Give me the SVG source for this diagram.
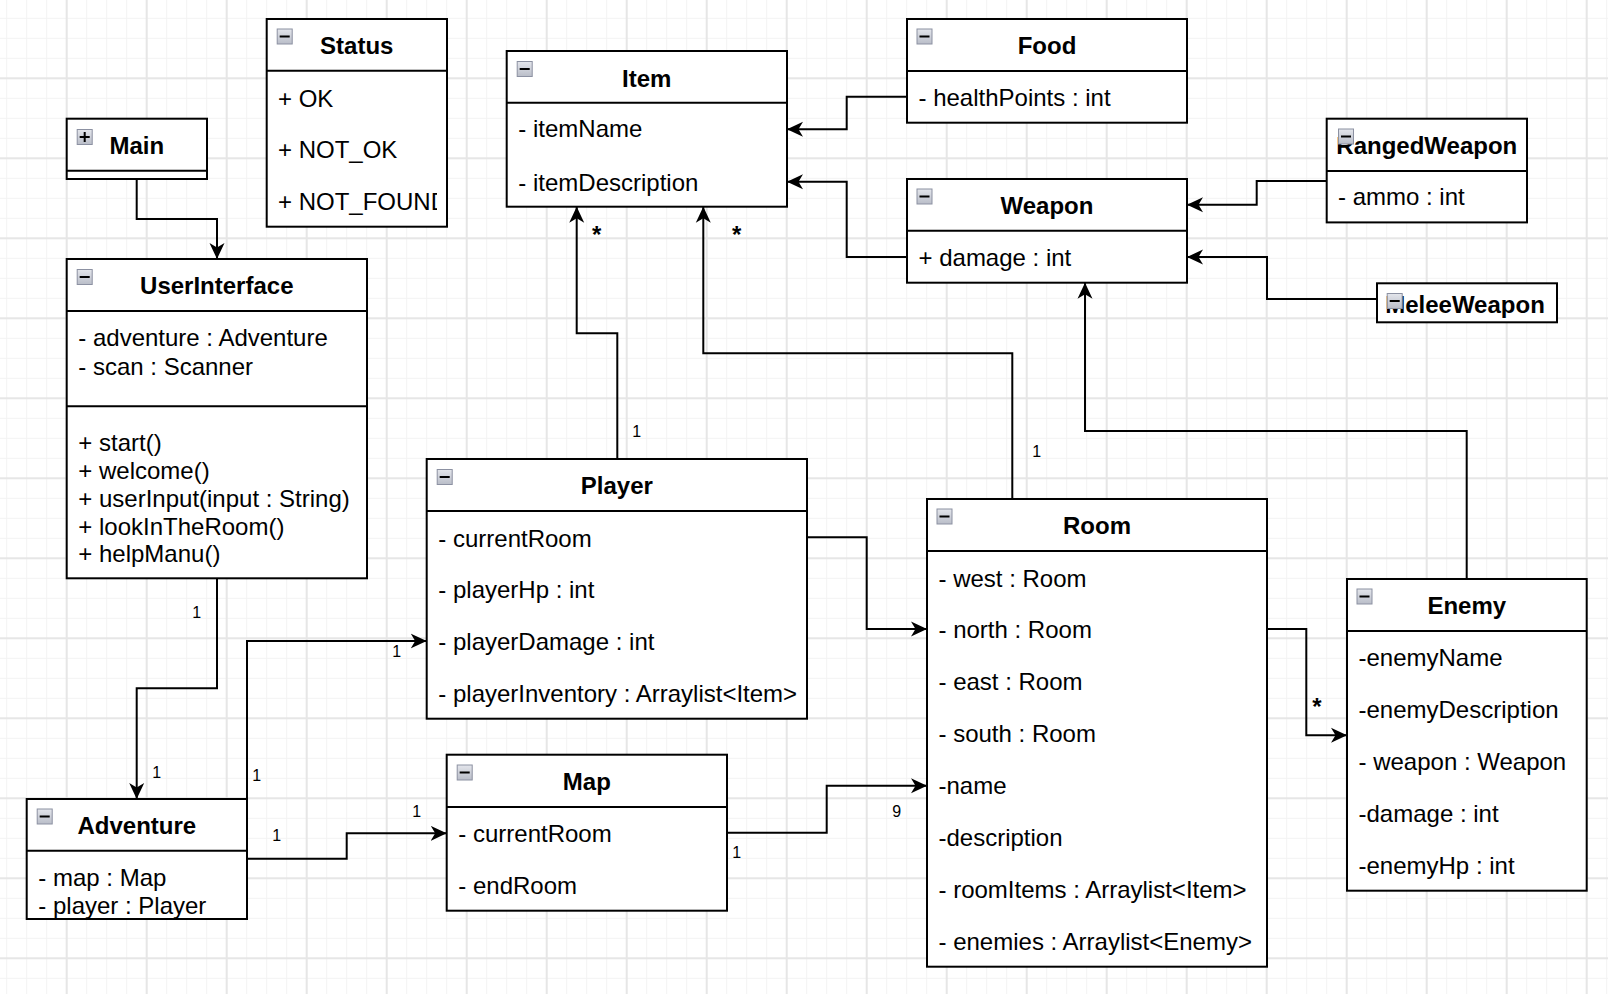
<svg xmlns="http://www.w3.org/2000/svg" width="1608" height="994" viewBox="0 0 1608 994">
  <style>
    text { font-family: "Liberation Sans", Arial, Helvetica, sans-serif; fill: #000; }
    .title { font-size: 24px; font-weight: bold; text-anchor: middle; }
    .attr { font-size: 24px; }
    .mult { font-size: 16px; text-anchor: middle; }
    .star { font-size: 24px; font-weight: bold; text-anchor: middle; }
    .box { fill: #fff; stroke: #000; stroke-width: 2; }
    .sep { stroke: #000; stroke-width: 2; }
    .edge { fill: none; stroke: #000; stroke-width: 2; marker-end: url(#arrow); }
  </style>
  <defs>
    <pattern id="gridMinor" x="6.2" y="17.8" width="20" height="20" patternUnits="userSpaceOnUse">
      <rect x="0" y="0" width="20" height="1" fill="#f3f3f3"/>
      <rect x="0" y="0" width="1" height="20" fill="#f3f3f3"/>
    </pattern>
    <pattern id="gridMajor" x="65.7" y="77.3" width="80" height="80" patternUnits="userSpaceOnUse">
      <rect x="0" y="0" width="80" height="2" fill="#e6e6e6"/>
      <rect x="0" y="0" width="2" height="80" fill="#e6e6e6"/>
    </pattern>
    <linearGradient id="iconFill" x1="0" y1="0" x2="0" y2="1">
      <stop offset="0" stop-color="#e4e6ec"/>
      <stop offset="1" stop-color="#b9bdc8"/>
    </linearGradient>
    <g id="iconMinus">
      <rect x="0.5" y="0.5" width="15" height="15" fill="url(#iconFill)" stroke="#8c91a2" stroke-width="1"/>
      <rect x="3" y="7" width="10" height="2" fill="#000"/>
    </g>
    <g id="iconPlus">
      <rect x="0.5" y="0.5" width="15" height="15" fill="url(#iconFill)" stroke="#8c91a2" stroke-width="1"/>
      <rect x="3" y="7" width="10" height="2" fill="#000"/>
      <rect x="7" y="3" width="2" height="10" fill="#000"/>
    </g>
    <marker id="arrow" viewBox="0 0 16 16" markerWidth="16" markerHeight="16" refX="16" refY="8" orient="auto" markerUnits="userSpaceOnUse">
      <path d="M0,0.5 L16,8 L0,15.5 L4.5,8 Z" fill="#000"/>
    </marker>
    <clipPath id="statusClip">
      <rect x="267" y="71" width="170" height="155"/>
    </clipPath>
  </defs>

  <!-- canvas -->
  <rect width="1608" height="994" fill="#fff"/>
  <rect width="1608" height="994" fill="url(#gridMinor)"/>
  <rect width="1608" height="994" fill="url(#gridMajor)"/>

  <!-- classes -->
  <g id="main">
    <rect class="box" x="66.7" y="118.7" width="140.3" height="60.3"/>
    <line class="sep" x1="66.7" y1="170.7" x2="207" y2="170.7"/>
    <text class="title" x="136.8" y="154.3">Main</text>
    <use href="#iconPlus" x="76.7" y="129"/>
  </g>

  <g id="status">
    <rect class="box" x="266.7" y="19" width="180.3" height="207.7"/>
    <line class="sep" x1="266.7" y1="70.7" x2="447" y2="70.7"/>
    <text class="title" x="356.8" y="54.3">Status</text>
    <g clip-path="url(#statusClip)">
      <text class="attr" x="278" y="106.5">+ OK</text>
      <text class="attr" x="278" y="157.8">+ NOT_OK</text>
      <text class="attr" x="278" y="209.8">+ NOT_FOUND</text>
    </g>
    <use href="#iconMinus" x="276.7" y="28.5"/>
  </g>

  <g id="item">
    <rect class="box" x="506.7" y="51" width="280.3" height="155.7"/>
    <line class="sep" x1="506.7" y1="102.7" x2="787" y2="102.7"/>
    <text class="title" x="646.8" y="87">Item</text>
    <text class="attr" x="518.3" y="137.2">- itemName</text>
    <text class="attr" x="518.3" y="190.5">- itemDescription</text>
    <use href="#iconMinus" x="516.7" y="61"/>
  </g>

  <g id="food">
    <rect class="box" x="907" y="19" width="280" height="103.7"/>
    <line class="sep" x1="907" y1="71" x2="1187" y2="71"/>
    <text class="title" x="1047" y="54.3">Food</text>
    <text class="attr" x="918.5" y="105.5">- healthPoints : int</text>
    <use href="#iconMinus" x="916.5" y="28.5"/>
  </g>

  <g id="weapon">
    <rect class="box" x="907" y="179" width="280" height="103.7"/>
    <line class="sep" x1="907" y1="230.7" x2="1187" y2="230.7"/>
    <text class="title" x="1047" y="214.3">Weapon</text>
    <text class="attr" x="918.5" y="265.5">+ damage : int</text>
    <use href="#iconMinus" x="916.5" y="188.5"/>
  </g>

  <g id="rangedWeapon">
    <rect class="box" x="1326.7" y="118.7" width="200.3" height="103.7"/>
    <line class="sep" x1="1326.7" y1="171" x2="1527" y2="171"/>
    <text class="title" x="1426.8" y="154.3">RangedWeapon</text>
    <text class="attr" x="1338" y="204.5">- ammo : int</text>
    <use href="#iconMinus" x="1338" y="128.5"/>
  </g>

  <g id="meleeWeapon">
    <rect class="box" x="1377" y="283.3" width="180" height="39"/>
    <text class="title" x="1465" y="312.5">MeleeWeapon</text>
    <use href="#iconMinus" x="1386.7" y="293"/>
  </g>

  <g id="userInterface">
    <rect class="box" x="66.7" y="259" width="300.3" height="319.3"/>
    <line class="sep" x1="66.7" y1="311" x2="367" y2="311"/>
    <line class="sep" x1="66.7" y1="406.3" x2="367" y2="406.3"/>
    <text class="title" x="216.8" y="294.3">UserInterface</text>
    <text class="attr" x="78.3" y="346.2">- adventure : Adventure</text>
    <text class="attr" x="78.3" y="374.5">- scan : Scanner</text>
    <text class="attr" x="78.3" y="450.5">+ start()</text>
    <text class="attr" x="78.3" y="478.5">+ welcome()</text>
    <text class="attr" x="78.3" y="506.5">+ userInput(input : String)</text>
    <text class="attr" x="78.3" y="534.5">+ lookInTheRoom()</text>
    <text class="attr" x="78.3" y="562.2">+ helpManu()</text>
    <use href="#iconMinus" x="76.7" y="269"/>
  </g>

  <g id="player">
    <rect class="box" x="426.7" y="459" width="380.3" height="259.7"/>
    <line class="sep" x1="426.7" y1="511" x2="807" y2="511"/>
    <text class="title" x="616.8" y="494.3">Player</text>
    <text class="attr" x="438.3" y="546.5">- currentRoom</text>
    <text class="attr" x="438.3" y="597.8">- playerHp : int</text>
    <text class="attr" x="438.3" y="649.8">- playerDamage : int</text>
    <text class="attr" x="438.3" y="702.2">- playerInventory : Arraylist&lt;Item&gt;</text>
    <use href="#iconMinus" x="436.7" y="469"/>
  </g>

  <g id="room">
    <rect class="box" x="927" y="499" width="340" height="467.7"/>
    <line class="sep" x1="927" y1="551" x2="1267" y2="551"/>
    <text class="title" x="1097" y="534.3">Room</text>
    <text class="attr" x="938.5" y="586.5">- west : Room</text>
    <text class="attr" x="938.5" y="638.2">- north : Room</text>
    <text class="attr" x="938.5" y="689.8">- east : Room</text>
    <text class="attr" x="938.5" y="742.2">- south : Room</text>
    <text class="attr" x="938.5" y="793.8">-name</text>
    <text class="attr" x="938.5" y="846.2">-description</text>
    <text class="attr" x="938.5" y="897.8">- roomItems : Arraylist&lt;Item&gt;</text>
    <text class="attr" x="938.5" y="949.8">- enemies : Arraylist&lt;Enemy&gt;</text>
    <use href="#iconMinus" x="936.5" y="508.5"/>
  </g>

  <g id="enemy">
    <rect class="box" x="1347" y="579" width="239.7" height="311.7"/>
    <line class="sep" x1="1347" y1="631" x2="1586.7" y2="631"/>
    <text class="title" x="1466.8" y="614.3">Enemy</text>
    <text class="attr" x="1358.5" y="665.5">-enemyName</text>
    <text class="attr" x="1358.5" y="717.8">-enemyDescription</text>
    <text class="attr" x="1358.5" y="769.8">- weapon : Weapon</text>
    <text class="attr" x="1358.5" y="821.5">-damage : int</text>
    <text class="attr" x="1358.5" y="873.8">-enemyHp : int</text>
    <use href="#iconMinus" x="1356.5" y="588.5"/>
  </g>

  <g id="map">
    <rect class="box" x="446.7" y="754.7" width="280.3" height="156"/>
    <line class="sep" x1="446.7" y1="807" x2="727" y2="807"/>
    <text class="title" x="586.8" y="790.3">Map</text>
    <text class="attr" x="458.3" y="842.2">- currentRoom</text>
    <text class="attr" x="458.3" y="893.8">- endRoom</text>
    <use href="#iconMinus" x="456.7" y="764.5"/>
  </g>

  <g id="adventure">
    <rect class="box" x="26.7" y="799" width="220.3" height="120"/>
    <line class="sep" x1="26.7" y1="850.7" x2="247" y2="850.7"/>
    <text class="title" x="136.8" y="834.3">Adventure</text>
    <text class="attr" x="38.3" y="885.5">- map : Map</text>
    <text class="attr" x="38.3" y="913.8">- player : Player</text>
    <use href="#iconMinus" x="36.7" y="808.5"/>
  </g>

  <!-- associations and generalisations -->
  <g id="connectors">
    <path class="edge" d="M136.7,179 V219 H217 V259"/>
    <path class="edge" d="M217,578.3 V688.3 H136.7 V799"/>
    <path class="edge" d="M247,799 V641 H426.7"/>
    <path class="edge" d="M247,858.7 H346.7 V833.3 H446.7"/>
    <path class="edge" d="M617.3,459 V333.3 H576.7 V206.7"/>
    <path class="edge" d="M1012.3,499 V353.3 H703.3 V206.7"/>
    <path class="edge" d="M907,96.7 H846.7 V129.3 H787"/>
    <path class="edge" d="M907,257 H846.7 V181.7 H787"/>
    <path class="edge" d="M1326.7,181 H1256.7 V204.7 H1187"/>
    <path class="edge" d="M1377,299 H1267 V257 H1187"/>
    <path class="edge" d="M1466.7,579 V431 H1085 V282.7"/>
    <path class="edge" d="M807,537.3 H866.7 V629 H927"/>
    <path class="edge" d="M727,832.7 H826.7 V785.7 H927"/>
    <path class="edge" d="M1267,629 H1306.3 V735.3 H1347"/>

    <text class="mult" x="196.7" y="617.5">1</text>
    <text class="mult" x="156.7" y="777.5">1</text>
    <text class="mult" x="256.7" y="781">1</text>
    <text class="mult" x="396.7" y="657">1</text>
    <text class="mult" x="276.7" y="841">1</text>
    <text class="mult" x="416.7" y="817">1</text>
    <text class="mult" x="636.7" y="436.5">1</text>
    <text class="mult" x="1036.7" y="456.5">1</text>
    <text class="mult" x="736.7" y="857.5">1</text>
    <text class="mult" x="896.7" y="816.5">9</text>
    <text class="star" x="596.7" y="243">*</text>
    <text class="star" x="736.7" y="243">*</text>
    <text class="star" x="1317" y="714.5">*</text>
  </g>
</svg>
